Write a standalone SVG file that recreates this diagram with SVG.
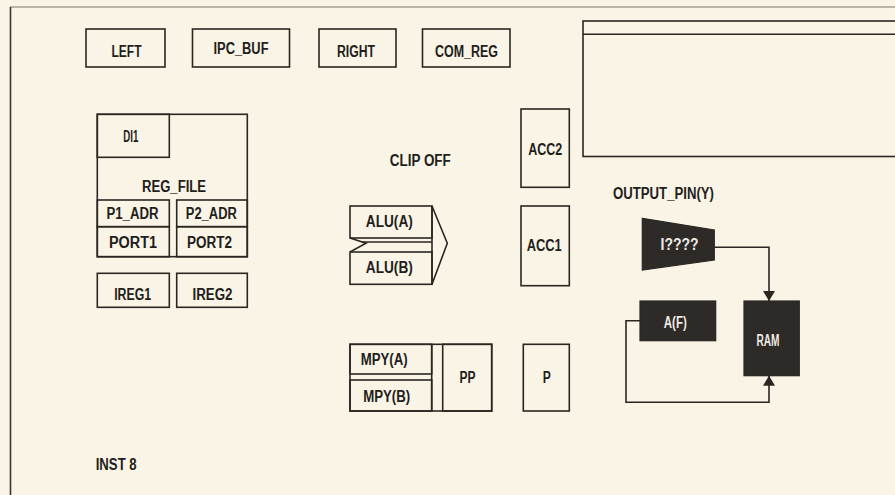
<svg xmlns="http://www.w3.org/2000/svg" width="895" height="495" viewBox="0 0 895 495">
<style>
.bx{fill:none;stroke:#2a2622;stroke-width:1.6}
.dk{fill:#2e2a27;stroke:#2a2622;stroke-width:1.2}
.ln{fill:none;stroke:#2a2622;stroke-width:1.6}
text{font-family:"Liberation Sans",Arial,sans-serif;font-weight:bold;font-size:16px;fill:#221e1b;text-anchor:middle}
text.w{fill:#eee9e2}
</style>
<defs>
<marker id="ah" viewBox="0 0 10 12" refX="10" refY="6" markerWidth="10" markerHeight="12" markerUnits="userSpaceOnUse" orient="auto">
<path d="M0,0 L10,6 L0,12 Z" fill="#2a2622"/>
</marker>
</defs>
<rect width="895" height="495" fill="#faf4e7"/>
<g id="frame">
<line x1="10" y1="7" x2="895" y2="7" stroke="#7a746c" stroke-width="1.2"/>
<line x1="10.5" y1="7" x2="10.5" y2="495" stroke="#3a3530" stroke-width="1.6"/>
</g>
<g id="LEFT"><rect class="bx" x="86" y="29" width="79" height="38"/><text x="126.5" y="56.5" textLength="30" lengthAdjust="spacingAndGlyphs">LEFT</text></g>
<g id="IPC_BUF"><rect class="bx" x="192.5" y="29" width="97" height="38"/><text x="241" y="53.5" textLength="55" lengthAdjust="spacingAndGlyphs">IPC_BUF</text></g>
<g id="RIGHT"><rect class="bx" x="319" y="29" width="77" height="38"/><text x="356" y="56.5" textLength="38" lengthAdjust="spacingAndGlyphs">RIGHT</text></g>
<g id="COM_REG"><rect class="bx" x="422.5" y="29" width="87.5" height="38"/><text x="466.5" y="56.5" textLength="63" lengthAdjust="spacingAndGlyphs">COM_REG</text></g>
<g id="PANEL"><rect class="bx" x="583" y="21" width="330" height="135.5"/><line class="ln" x1="583" y1="34.3" x2="895" y2="34.3"/></g>
<g id="REG_FILE">
<rect class="bx" x="97.3" y="114.3" width="150" height="142.4"/>
<text x="174" y="191.7" textLength="64" lengthAdjust="spacingAndGlyphs">REG_FILE</text>
</g>
<g id="DI1"><rect class="bx" x="97.3" y="114.3" width="72" height="43"/><text x="130.8" y="142" textLength="15" lengthAdjust="spacingAndGlyphs">DI1</text></g>
<g id="P1_ADR"><rect class="bx" x="97.3" y="200" width="72" height="26.7"/><text x="132.5" y="219.3" textLength="52" lengthAdjust="spacingAndGlyphs">P1_ADR</text></g>
<g id="P2_ADR"><rect class="bx" x="176.7" y="200" width="70.6" height="26.7"/><text x="211.3" y="219.3" textLength="51" lengthAdjust="spacingAndGlyphs">P2_ADR</text></g>
<g id="PORT1"><rect class="bx" x="97.3" y="226.7" width="72" height="30"/><text x="133" y="248.3" textLength="48" lengthAdjust="spacingAndGlyphs">PORT1</text></g>
<g id="PORT2"><rect class="bx" x="176.7" y="226.7" width="70.6" height="30"/><text x="209.5" y="248.3" textLength="45" lengthAdjust="spacingAndGlyphs">PORT2</text></g>
<g id="IREG1"><rect class="bx" x="97.3" y="273.3" width="72" height="34"/><text x="132.7" y="300" textLength="37" lengthAdjust="spacingAndGlyphs">IREG1</text></g>
<g id="IREG2"><rect class="bx" x="176.7" y="273.3" width="70.6" height="34"/><text x="212.5" y="300" textLength="40" lengthAdjust="spacingAndGlyphs">IREG2</text></g>
<g id="CLIP_OFF"><text x="420.3" y="165.7" textLength="61" lengthAdjust="spacingAndGlyphs">CLIP OFF</text></g>
<g id="ACC2"><rect class="bx" x="521" y="109" width="48.3" height="78.3"/><text x="545.3" y="155" textLength="34" lengthAdjust="spacingAndGlyphs">ACC2</text></g>
<g id="ACC1"><rect class="bx" x="521" y="206" width="48.3" height="79.7"/><text x="544.2" y="250.7" textLength="35" lengthAdjust="spacingAndGlyphs">ACC1</text></g>
<g id="ALU">
<polyline class="ln" points="432,206 447.3,243.3 432,284.3"/>
<line class="ln" x1="432" y1="206" x2="432" y2="284.3"/>
<polyline class="ln" points="350,238 366,243.3 350,252"/>
<line class="ln" x1="362" y1="242" x2="432" y2="242"/>
</g>
<g id="ALU_A"><rect class="bx" x="350" y="206" width="82" height="32"/><text x="389.3" y="226.7" textLength="47" lengthAdjust="spacingAndGlyphs">ALU(A)</text></g>
<g id="ALU_B"><rect class="bx" x="350" y="252" width="82" height="32.3"/><text x="389.3" y="272.7" textLength="47" lengthAdjust="spacingAndGlyphs">ALU(B)</text></g>
<g id="MPY">
<rect class="bx" x="350" y="344.3" width="141.7" height="66.7"/>
<line class="ln" x1="431.7" y1="344.3" x2="431.7" y2="411"/>
</g>
<g id="MPY_A"><rect class="bx" x="350" y="344.3" width="81.7" height="29.7"/><text x="384.2" y="365" textLength="47" lengthAdjust="spacingAndGlyphs">MPY(A)</text></g>
<g id="MPY_B"><rect class="bx" x="350" y="380" width="81.7" height="31"/><text x="386.7" y="401.7" textLength="47" lengthAdjust="spacingAndGlyphs">MPY(B)</text></g>
<g id="PP"><rect class="bx" x="442.7" y="344.3" width="49" height="66.7"/><text x="467.5" y="383" textLength="16" lengthAdjust="spacingAndGlyphs">PP</text></g>
<g id="P"><rect class="bx" x="523.3" y="344.3" width="46" height="66.7"/><text x="546.7" y="383" textLength="8" lengthAdjust="spacingAndGlyphs">P</text></g>
<g id="OUTPUT_PIN"><text x="663.5" y="199.3" textLength="101" lengthAdjust="spacingAndGlyphs">OUTPUT_PIN(Y)</text></g>
<g id="connectors">
<polyline class="ln" points="714.3,247.3 769,247.3 769,301" marker-end="url(#ah)"/>
<polyline class="ln" points="640,320.7 626,320.7 626,402.3 769,402.3 769,375.7" marker-end="url(#ah)"/>
</g>
<g id="I4"><polygon class="dk" points="642.3,218.3 714.3,230 714.3,260 642.3,270"/><text class="w" x="679.5" y="249.5" textLength="38" lengthAdjust="spacingAndGlyphs">I????</text></g>
<g id="A_F"><rect class="dk" x="640" y="301" width="75.7" height="39.7"/><text class="w" x="675.3" y="328.3" textLength="23" lengthAdjust="spacingAndGlyphs">A(F)</text></g>
<g id="RAM"><rect class="dk" x="744" y="301" width="55.3" height="74.7"/><text class="w" x="768" y="345.5" textLength="23" lengthAdjust="spacingAndGlyphs">RAM</text></g>
<g id="INST8"><text x="116.2" y="470" textLength="41" lengthAdjust="spacingAndGlyphs">INST 8</text></g>
</svg>
